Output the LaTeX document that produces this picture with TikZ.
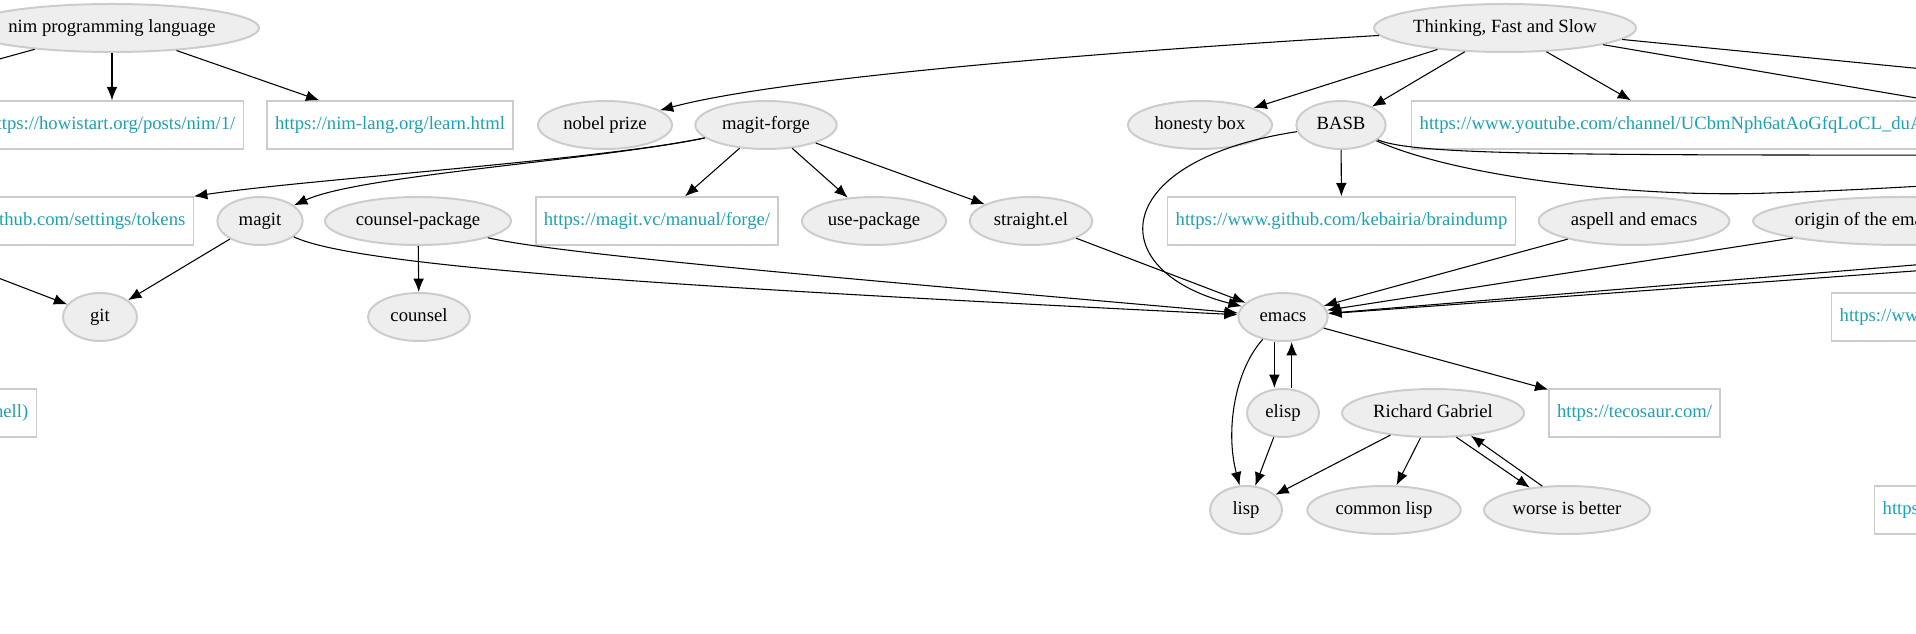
\documentclass[tikz,border=0pt]{standalone}
\usepackage{fontspec}
\setmainfont{Liberation Serif}
\usetikzlibrary{arrows.meta,shapes.geometric}
\definecolor{nodefill}{HTML}{EEEEEE}
\definecolor{nodeline}{HTML}{CCCCCC}
\definecolor{urltext}{HTML}{17A2B8}
\tikzset{
	topic/.style={ellipse, draw=nodeline, fill=nodefill, line width=1.5pt, inner sep=0pt,
		minimum height=36pt, text height=10pt, text depth=3.5pt, font=\fontsize{14}{16}\selectfont},
	link/.style={rectangle, draw=nodeline, line width=1pt, text=urltext, inner xsep=6pt, inner ysep=0pt,
		minimum height=36pt, text height=10pt, text depth=3.5pt, font=\fontsize{14}{16}\selectfont},
	conn/.style={-{Latex[length=10pt,width=8pt]}, line width=0.8pt},
}
\begin{document}
\begin{tikzpicture}[x=0.75pt,y=-0.75pt]
		\useasboundingbox (0,0) rectangle (1916,634);
		\clip (0,0) rectangle (1916,634);
		% first row
		\node[topic, minimum width=220.5pt] (nim) at (112,28) {nim programming language};
		\node[topic, minimum width=196.5pt] (think) at (1505,28) {Thinking, Fast and Slow};
		% second row
		\node[link, anchor=east, text width=190pt, align=right] (howi) at (244,125) {ttps://howistart.org/posts/nim/1/};
		\node[link] (nimlang) at (390,125) {https://nim-lang.org/learn.html};
		\node[topic, minimum width=100.5pt] (nobel) at (605,125) {nobel prize};
		\node[topic, minimum width=106pt] (mforge) at (766,125) {magit-forge};
		\node[topic, minimum width=108pt] (honesty) at (1200,125) {honesty box};
		\node[topic, minimum width=67pt] (basb) at (1341,125) {BASB};
		\node[link, anchor=west, text width=400pt, align=left] (yt) at (1411,125) {https://www.youtube.com/channel/UCbmNph6atAoGfqLoCL\_duA};
		% third row
		\node[link, anchor=east, text width=150pt, align=right] (tokens) at (194,221) {thub.com/settings/tokens};
		\node[topic, minimum width=64pt] (magit) at (260,221) {magit};
		\node[topic, minimum width=139.5pt] (cpkg) at (418,221) {counsel-package};
		\node[link] (magitvc) at (657,221) {https://magit.vc/manual/forge/};
		\node[topic, minimum width=108pt] (usepkg) at (874,221) {use-package};
		\node[topic, minimum width=92pt] (straight) at (1031,221) {straight.el};
		\node[link] (braindump) at (1341.5,221) {https://www.github.com/kebairia/braindump};
		\node[topic, minimum width=143pt] (aspell) at (1634,221) {aspell and emacs};
		\node[topic, minimum width=225pt, anchor=west,
			label={[anchor=west, xshift=32pt, inner sep=0pt, font=\fontsize{14}{16}\selectfont]west:origin of the ema}] (origin) at (1752,221) {};
		% fourth row
		\node[topic, minimum width=55.5pt] (git) at (100,317) {git};
		\node[topic, minimum width=76.5pt] (counsel) at (419,317) {counsel};
		\node[topic, minimum width=67pt] (emacs) at (1283,317) {emacs};
		\node[link, anchor=west, text width=80pt, align=left] (ww) at (1831,317) {https://ww};
		% fifth row
		\node[link, anchor=east, text width=30pt, align=right] (shell) at (37,413) {hell)};
		\node[topic, minimum width=54pt] (elisp) at (1283,413) {elisp};
		\node[topic, minimum width=136.5pt] (rg) at (1433,413) {Richard Gabriel};
		\node[link] (teco) at (1634.5,413) {https://tecosaur.com/};
		% sixth row
		\node[topic, minimum width=54pt] (lisp) at (1246,510) {lisp};
		\node[topic, minimum width=115pt] (clisp) at (1384,510) {common lisp};
		\node[topic, minimum width=124.5pt] (wib) at (1567,510) {worse is better};
		\node[link, anchor=west, text width=60pt, align=left] (https) at (1874,510) {https};
		% ends of edges outside the picture
		\coordinate (offA) at (-240,125);
		\coordinate (offB) at (2260,102);
		\coordinate (offC) at (1940,102);
		\coordinate (offD) at (2200,155);
		\coordinate (offE) at (2150,175);
		\coordinate (offF) at (2400,225);
		\coordinate (offG) at (2600,221);
		\coordinate (offH) at (-150,221);
		% edges
		\draw[conn] (nim) -- (nim.south |- howi.north);
		\draw[conn] (nim) -- (nimlang);
		\draw[conn] (nim) -- (offA);
		\draw[conn] (think) .. controls (1100,52) and (780,78) .. (nobel);
		\draw[conn] (think) -- (honesty);
		\draw[conn] (think) -- (basb);
		\draw[conn] (think) -- ([xshift=165pt]yt.north west);
		\draw[conn] (think) -- (offB);
		\draw[conn] (think) -- (offC);
		\draw[conn] (mforge) .. controls (600,160) and (300,180) .. (tokens.north east);
		\draw[conn] (mforge) .. controls (600,160) and (360,175) .. (magit);
		\draw[conn] (mforge) -- (magitvc);
		\draw[conn] (mforge) -- (usepkg);
		\draw[conn] (mforge) -- (straight);
		\draw[conn] (basb) -- (braindump);
		\draw[conn] (basb) .. controls (1110,160) and (1100,270) .. (emacs);
		\draw[conn] (basb) .. controls (1420,157) and (1600,155) .. (offD);
		\draw[conn] (basb) .. controls (1460,178) and (1640,198) .. (1770,193) .. controls (1900,189) and (2000,180) .. (offE);
		\draw[conn] (offH) -- (git);
		\draw[conn] (magit) -- (git);
		\draw[conn] (cpkg) -- (counsel);
		\draw[conn] (magit) .. controls (360,268) and (700,288) .. (emacs);
		\draw[conn] (cpkg) .. controls (560,255) and (900,283) .. (emacs);
		\draw[conn] (straight) -- (emacs);
		\draw[conn] (aspell) -- (emacs);
		\draw[conn] (origin) -- (emacs);
		\draw[conn] (offF) -- (emacs);
		\draw[conn] (offG) -- (emacs);
		\draw[conn] (emacs) .. controls (1235,370) and (1225,430) .. (lisp);
		\draw[conn] ([xshift=-6.5pt]emacs.south) -- ([xshift=-6.5pt]elisp.north);
		\draw[conn] ([xshift=6.5pt]elisp.north) -- ([xshift=6.5pt]emacs.south);
		\draw[conn] (elisp) -- (lisp);
		\draw[conn] (rg) -- (lisp);
		\draw[conn] (rg) -- (clisp);
		\draw[conn] (rg.-46) -- (wib.149);
		\draw[conn] (wib.136) -- (rg.-31);
		\draw[conn] (emacs) -- (teco);
	\end{tikzpicture}
\end{document}
